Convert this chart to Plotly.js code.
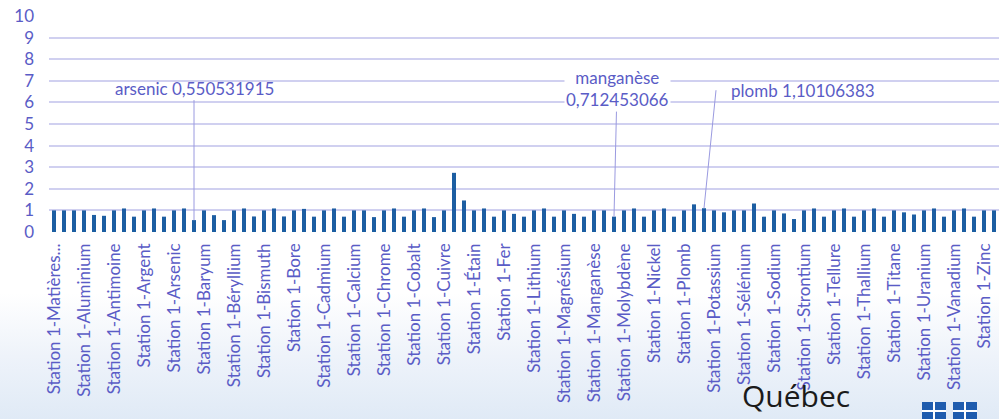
<!DOCTYPE html>
<html>
<head>
<meta charset="utf-8">
<script src="https://cdn.plot.ly/plotly-3.0.1.min.js"></script>
<style>
  html, body { margin: 0; padding: 0; }
  body { width: 999px; height: 419px; overflow: hidden;
         background: linear-gradient(to bottom, #ffffff 0%, #ffffff 70%, #eef3fa 85%, #e0eaf6 100%); }
  #chart { width: 999px; height: 419px; }
</style>
</head>
<body>
<div id="chart"></div>
<script>
// ---- data ----
const elements = ["Matières en suspension", "Aluminium", "Antimoine", "Argent", "Arsenic", "Baryum",
  "Béryllium", "Bismuth", "Bore", "Cadmium", "Calcium", "Chrome", "Cobalt", "Cuivre", "Étain",
  "Fer", "Lithium", "Magnésium", "Manganèse", "Molybdène", "Nickel", "Plomb", "Potassium",
  "Sélénium", "Sodium", "Strontium", "Tellure", "Thallium", "Titane", "Uranium", "Vanadium", "Zinc"];
const stations = ["Station 1", "Station 2", "Station 3"];
const values = [
  1.00, 1.00, 1.00,   1.00, 0.79, 0.75,   1.00, 1.09, 0.71,   1.00, 1.09, 0.71,
  1.00, 1.09, 0.551,  1.00, 0.78, 0.55,   1.00, 1.09, 0.72,   1.00, 1.09, 0.72,
  1.00, 1.07, 0.71,   1.00, 1.09, 0.71,   1.00, 1.00, 0.69,   1.00, 1.09, 0.71,
  1.00, 1.09, 0.69,   1.00, 2.74, 1.46,   1.00, 1.09, 0.71,   1.00, 0.84, 0.71,
  1.00, 1.09, 0.71,   1.00, 0.84, 0.71,   1.00, 1.00, 0.712,  1.00, 1.09, 0.71,
  1.00, 1.09, 0.71,   1.00, 1.28, 1.101,  1.00, 0.91, 1.00,   1.00, 1.32, 0.71,
  1.00, 0.86, 0.60,   1.00, 1.09, 0.71,   1.00, 1.09, 0.71,   1.00, 1.09, 0.71,
  1.00, 0.91, 0.81,   1.00, 1.09, 0.71,   1.00, 1.09, 0.71,   1.00, 1.00, 0.71
];
const calloutCats = ["Station 3-Arsenic", "Station 3-Manganèse", "Station 3-Plomb"];
const calloutTexts = ["arsenic 0,550531915", "manganèse<br>0,712453066", "plomb 1,10106383"];
const yTicks = [0, 1, 2, 3, 4, 5, 6, 7, 8, 9, 10];

// ---- derived ----
const categories = [];
elements.forEach(e => stations.forEach(s => categories.push(s + "-" + e)));
const tickvals = elements.map(e => stations[0] + "-" + e);
const ticktext = tickvals.map(t => t.length > 26 ? t.slice(0, 18) + "..." : t);

const txtColor = "#5a5cc6";
const font = "Lato, 'Noto Sans', sans-serif";

// pixel helpers for decorations (plot area: x 49..999, y 16..232)
const L = 49, R = 999, T = 16, B = 232;
const px = v => (v - L) / (R - L);
const py = v => (B - v) / (B - T);

const idx = c => categories.indexOf(c);
const calloutStyle = [
  {ax: 0, ay: -132, xanchor: "center", bgcolor: "rgba(0,0,0,0)", borderpad: 1},
  {ax: 3, ay: -128, xanchor: "center", bgcolor: "#ffffff", borderpad: 1},
  {ax: 12, ay: -118, xanchor: "left", bgcolor: "rgba(0,0,0,0)", borderpad: 14}
];
const annotations = calloutCats.map((c, i) => Object.assign({
  x: c, y: values[idx(c)], xref: "x", yref: "y",
  text: calloutTexts[i], showarrow: true, arrowhead: 0, arrowwidth: 1,
  arrowcolor: "#9a9ae0", axref: "pixel", ayref: "pixel",
  font: {family: font, size: 17, color: txtColor}
}, calloutStyle[i]));

// Québec logo (decoration)
annotations.push({xref: "paper", yref: "paper", x: px(740), y: py(418), xanchor: "left", yanchor: "bottom",
  text: "Québec", showarrow: false, font: {family: "'Open Sans', sans-serif", size: 30, color: "#1b1b1b"}});

const shapes = [];
[[922, 946], [953, 977]].forEach(([a, b]) => {
  shapes.push({type: "rect", xref: "paper", yref: "paper", x0: px(a), x1: px(b), y0: py(402), y1: py(425),
    fillcolor: "#1f5cae", line: {width: 0}, layer: "below"});
  const cx = (a + b) / 2;
  shapes.push({type: "line", xref: "paper", yref: "paper", x0: px(cx), x1: px(cx), y0: py(402), y1: py(425),
    line: {color: "#ffffff", width: 2}, layer: "below"});
  shapes.push({type: "line", xref: "paper", yref: "paper", x0: px(a), x1: px(b), y0: py(411), y1: py(411),
    line: {color: "#ffffff", width: 2}, layer: "below"});
});

const trace = {
  type: "bar", x: categories, y: values,
  marker: {color: "#1c5ea2", line: {width: 0}},
  hoverinfo: "x+y"
};

const layout = {
  width: 999, height: 419,
  margin: {l: L, r: 999 - R, t: T, b: 419 - B, pad: 0},
  paper_bgcolor: "rgba(0,0,0,0)", plot_bgcolor: "rgba(0,0,0,0)",
  showlegend: false,
  bargap: 0.6,
  xaxis: {
    type: "category", categoryorder: "array", categoryarray: categories,
    range: [-0.5, 94.5],
    tickmode: "array", tickvals: tickvals, ticktext: ticktext,
    tickangle: -90, showgrid: false, zeroline: false, showline: false, ticks: "",
    ticklabelstandoff: 7,
    tickfont: {family: font, size: 17, color: txtColor}
  },
  yaxis: {
    range: [0, 10], tickmode: "array", tickvals: yTicks,
    showgrid: true, gridcolor: "#d0d0f0", gridwidth: 2, zeroline: false, showline: false,
    ticks: "", ticklabelstandoff: 14,
    tickfont: {family: font, size: 17, color: txtColor}
  },
  annotations: annotations,
  shapes: shapes
};

Plotly.newPlot("chart", [trace], layout, {staticPlot: true, displayModeBar: false});
</script>
</body>
</html>
